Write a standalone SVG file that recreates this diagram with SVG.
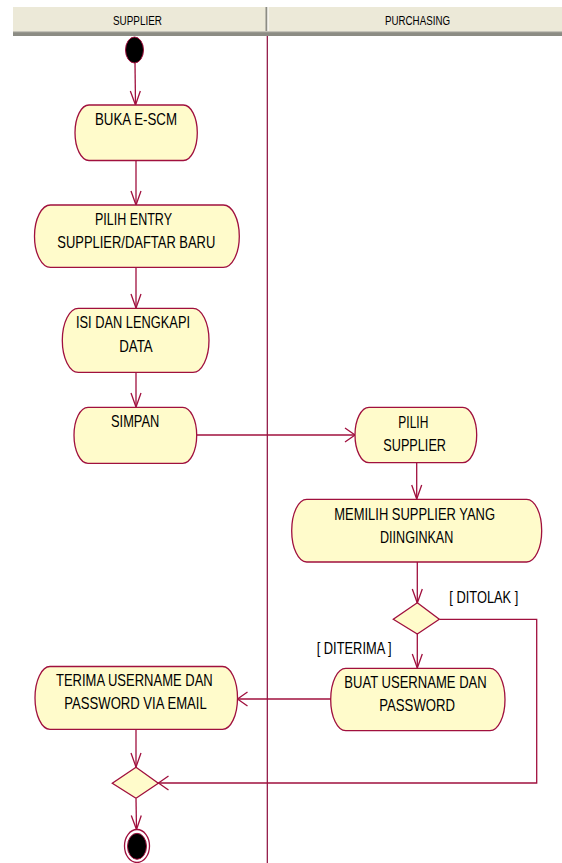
<svg xmlns="http://www.w3.org/2000/svg" width="562" height="863" viewBox="0 0 562 863">
  <style>
    .act { fill: #FFFBCB; stroke: #A0103E; stroke-width: 1.3; }
    .dec { fill: #FFFBCB; stroke: #A0103E; stroke-width: 1.3; }
    .lbl { font-family: "Liberation Sans", Arial, sans-serif; font-size: 17px; fill: #000; }
    .hdr { font-family: "Liberation Sans", Arial, sans-serif; font-size: 12.5px; fill: #000; }
    .flow { fill: none; stroke: #A0103E; stroke-width: 1.3; }
  </style>
  <defs>
    <marker id="arrV" markerWidth="1" markerHeight="1" markerUnits="userSpaceOnUse" orient="auto" overflow="visible">
      <path d="M-14,-5 L0,0 L-14,5" fill="none" stroke="#A0103E" stroke-width="1.3"/>
    </marker>
    <marker id="arrH" markerWidth="1" markerHeight="1" markerUnits="userSpaceOnUse" orient="auto" overflow="visible">
      <path d="M-10,-7 L0,0 L-10,7" fill="none" stroke="#A0103E" stroke-width="1.3"/>
    </marker>
  </defs>

  <rect width="562" height="863" fill="#FFFFFF"/>

  <!-- swimlane header -->
  <g id="swimlanes">
    <rect x="13" y="7" width="549" height="24" fill="#ECE9D8"/>
    <rect x="13" y="31" width="549" height="5" fill="#8C8C84"/>
    <rect x="13" y="31" width="549" height="1.2" fill="#C4C2B8"/>
    <rect x="265.5" y="7" width="2" height="24" fill="#8C8C84"/>
    <rect x="267.5" y="7" width="1" height="24" fill="#FFFFFF"/>
    <text class="hdr" x="113" y="25" textLength="49" lengthAdjust="spacingAndGlyphs">SUPPLIER</text>
    <text class="hdr" x="385" y="25" textLength="65" lengthAdjust="spacingAndGlyphs">PURCHASING</text>
    <line x1="267.3" y1="36" x2="267.3" y2="863" stroke="#8B0A3A" stroke-width="1.2"/>
  </g>

  <!-- connectors -->
  <g id="connectors">
    <line class="flow" x1="135" y1="63" x2="135.5" y2="105" marker-end="url(#arrV)"/>
    <line class="flow" x1="136" y1="161" x2="136" y2="205" marker-end="url(#arrV)"/>
    <line class="flow" x1="136" y1="267" x2="136" y2="308" marker-end="url(#arrV)"/>
    <line class="flow" x1="136" y1="372" x2="136" y2="407" marker-end="url(#arrV)"/>
    <line class="flow" x1="197" y1="435" x2="355" y2="435" marker-end="url(#arrH)"/>
    <line class="flow" x1="416.7" y1="463" x2="416.7" y2="499" marker-end="url(#arrV)"/>
    <line class="flow" x1="417.3" y1="562" x2="417.3" y2="603" marker-end="url(#arrV)"/>
    <line class="flow" x1="417.3" y1="634" x2="417.3" y2="668" marker-end="url(#arrV)"/>
    <polyline class="flow" points="439.5,619.3 536.7,619.3 536.7,783 158.5,783" marker-end="url(#arrH)"/>
    <line class="flow" x1="331" y1="699" x2="237.5" y2="699" marker-end="url(#arrH)"/>
    <line class="flow" x1="136" y1="729" x2="136" y2="767" marker-end="url(#arrV)"/>
    <line class="flow" x1="136" y1="798.5" x2="136.5" y2="829.5" marker-end="url(#arrV)"/>
    <text class="lbl" x="449.3" y="603.3" textLength="69" lengthAdjust="spacingAndGlyphs">[ DITOLAK ]</text>
    <text class="lbl" x="316.7" y="654" textLength="75" lengthAdjust="spacingAndGlyphs">[ DITERIMA ]</text>
  </g>

  <g id="start">
    <ellipse cx="134.5" cy="50" rx="9" ry="13" fill="#000" stroke="#A0103E" stroke-width="1"/>
  </g>

  <g id="buka-escm">
    <rect class="act" x="75" y="105" width="122.3" height="55.5" rx="14" ry="27.75"/>
    <text class="lbl" x="95" y="125" textLength="82" lengthAdjust="spacingAndGlyphs">BUKA E-SCM</text>
  </g>

  <g id="pilih-entry">
    <rect class="act" x="34.5" y="205" width="204.8" height="62.3" rx="16" ry="31.15"/>
    <text class="lbl" x="95" y="225" textLength="77" lengthAdjust="spacingAndGlyphs">PILIH ENTRY</text>
    <text class="lbl" x="57.3" y="248.3" textLength="158" lengthAdjust="spacingAndGlyphs">SUPPLIER/DAFTAR BARU</text>
  </g>

  <g id="isi-data">
    <rect class="act" x="62.3" y="308.3" width="146.7" height="64" rx="16" ry="32"/>
    <text class="lbl" x="76" y="328.3" textLength="114" lengthAdjust="spacingAndGlyphs">ISI DAN LENGKAPI</text>
    <text class="lbl" x="119.3" y="351.7" textLength="33.4" lengthAdjust="spacingAndGlyphs">DATA</text>
  </g>

  <g id="simpan">
    <rect class="act" x="74" y="407.3" width="122.7" height="56" rx="14" ry="28"/>
    <text class="lbl" x="111" y="426.7" textLength="48.3" lengthAdjust="spacingAndGlyphs">SIMPAN</text>
  </g>

  <g id="pilih-supplier">
    <rect class="act" x="355" y="407.3" width="121.7" height="55.4" rx="14" ry="27.7"/>
    <text class="lbl" x="398.3" y="427.7" textLength="30" lengthAdjust="spacingAndGlyphs">PILIH</text>
    <text class="lbl" x="383.3" y="450.7" textLength="62.7" lengthAdjust="spacingAndGlyphs">SUPPLIER</text>
  </g>

  <g id="memilih-supplier">
    <rect class="act" x="291.7" y="499.3" width="250" height="62.7" rx="15" ry="31.35"/>
    <text class="lbl" x="334.3" y="520" textLength="160.7" lengthAdjust="spacingAndGlyphs">MEMILIH SUPPLIER YANG</text>
    <text class="lbl" x="380" y="542.7" textLength="73.3" lengthAdjust="spacingAndGlyphs">DIINGINKAN</text>
  </g>

  <g id="keputusan">
    <polygon class="dec" points="417.3,602.7 439.3,619.3 417.3,634 393.3,619.3"/>
  </g>

  <g id="buat-username">
    <rect class="act" x="330.7" y="668.3" width="174.3" height="62.4" rx="15" ry="31.2"/>
    <text class="lbl" x="344.3" y="688.3" textLength="142.4" lengthAdjust="spacingAndGlyphs">BUAT USERNAME DAN</text>
    <text class="lbl" x="379.3" y="710.7" textLength="75.7" lengthAdjust="spacingAndGlyphs">PASSWORD</text>
  </g>

  <g id="terima-username">
    <rect class="act" x="35" y="666.5" width="202.5" height="62.8" rx="15" ry="31.4"/>
    <text class="lbl" x="56" y="686" textLength="156.7" lengthAdjust="spacingAndGlyphs">TERIMA USERNAME DAN</text>
    <text class="lbl" x="64.3" y="709.3" textLength="142.4" lengthAdjust="spacingAndGlyphs">PASSWORD VIA EMAIL</text>
  </g>

  <g id="gabung">
    <polygon class="dec" points="136,767.3 158.3,783.3 136,798.3 112.3,783.3"/>
  </g>

  <g id="end">
    <ellipse cx="137" cy="846" rx="12.5" ry="16.5" fill="#FFFFFF" stroke="#A0103E" stroke-width="1.3"/>
    <ellipse cx="137" cy="846.3" rx="9.5" ry="13" fill="#000" stroke="#A0103E" stroke-width="1"/>
  </g>
</svg>
